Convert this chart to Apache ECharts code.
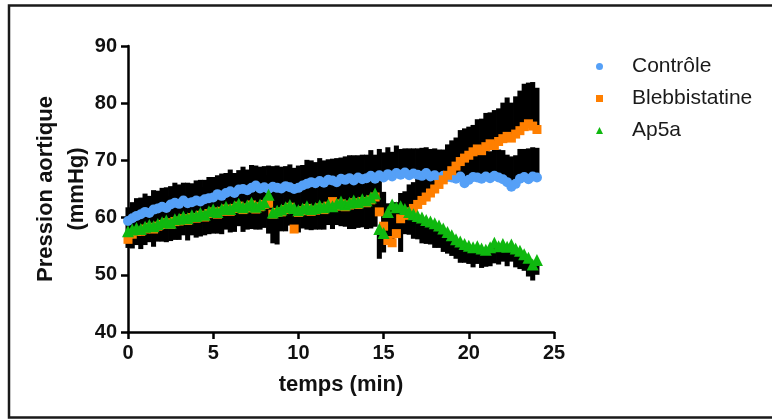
<!DOCTYPE html>
<html>
<head>
<meta charset="utf-8">
<script src="https://cdn.jsdelivr.net/npm/echarts@6/dist/echarts.min.js"></script>
<style>
  html, body { margin: 0; padding: 0; background: #fff; }
  #main { width: 772px; height: 419px; }
</style>
</head>
<body>
<div id="main"></div>
<script>
// temps (min) : un point tous les 0.25 min, de 0 à 24
var step = 0.25;

// Contrôle : moyenne + SEM (barre vers le haut)
var ctrl = [
  59.4, 59.9, 60.3, 60.6,  61.0, 60.8, 61.4, 61.6,  61.9, 61.7, 62.3, 62.6,  62.4, 63.0, 62.5, 62.7,
  63.0, 62.8, 63.2, 63.4,  63.5, 64.1, 63.8, 64.3,  64.6, 64.3, 64.9, 65.0,  64.8, 65.2, 65.6, 65.1,
  65.3, 65.0, 65.4, 65.2,  65.1, 65.5, 65.3, 65.0,  65.2, 65.6, 65.9, 66.2,  66.0, 66.4, 66.1, 66.6,
  66.5, 66.2, 66.8, 66.6,  66.9, 66.5, 67.0, 66.7,  66.9, 67.3, 66.8, 67.4,  67.0, 67.6, 67.2, 67.8,
  67.5, 67.9, 67.4, 67.7,  67.5, 67.3, 67.8, 67.2,  67.4, 66.9, 67.3, 67.1,  67.0, 66.8, 67.2, 66.0,
  66.6, 67.1, 67.0, 66.8,  67.2, 66.9, 67.3, 67.0,  66.7, 66.2, 65.4, 65.9,  66.8, 67.1, 66.7, 67.2,
  67.0
];
var ctrlSem = [
  2.4, 2.8, 3.1, 2.9,  3.2, 3.0, 3.4, 3.1,  3.3, 3.6, 3.2, 3.5,  3.4, 3.1, 3.6, 3.3,
  3.5, 3.8, 3.4, 3.7,  3.6, 3.3, 3.9, 3.5,  3.8, 3.5, 3.4, 3.9,  3.6, 4.0, 3.5, 3.8,
  3.7, 4.1, 3.6, 3.9,  3.8, 3.5, 4.0, 3.7,  3.9, 3.6, 4.2, 3.8,  3.7, 4.0, 3.9, 3.6,
  3.8, 4.2, 3.7, 4.1,  4.0, 4.4, 3.9, 4.3,  4.1, 4.5, 4.2, 4.6,  4.4, 4.7, 4.3, 4.8,
  4.5, 4.2, 4.7, 4.4,  4.6, 4.9, 4.5, 4.8,  4.7, 5.0, 4.6, 4.9,  4.8, 4.5, 5.0, 4.7,
  4.9, 4.6, 5.1, 4.8,  5.0, 4.7, 5.2, 4.9,  5.1, 4.8, 5.3, 5.0,  5.2, 4.9, 5.4, 5.1,
  5.2
];

// Blebbistatine : moyenne + SEM (barre vers le haut)
var bleb = [
  56.2, 57.1, 57.6, 57.6,  58.0, 58.3, 58.0, 58.5,  58.8, 59.1, 58.8, 59.3,  59.4, 59.8, 59.5, 60.0,
  59.9, 60.4, 60.1, 60.7,  61.0, 60.6, 61.1, 61.5,  61.1, 61.6, 62.0, 61.4,  61.7, 62.2, 61.5, 61.9,
  62.3, 62.5, 60.6, 60.9,  61.0, 61.4, 61.8, 58.0,  60.9, 61.2, 61.6, 61.1,  61.3, 61.7, 61.4, 62.0,
  62.8, 62.0, 62.4, 61.9,  62.2, 62.6, 62.3, 62.8,  62.6, 63.1, 63.6, 61.0,  58.5, 56.0, 55.6, 57.2,
  59.8, 60.4, 61.0, 61.6,  62.3, 63.0, 63.6, 64.3,  65.0, 65.8, 66.6, 67.4,  68.2, 69.0, 69.8, 70.4,
  70.9, 71.5, 72.0, 71.7,  72.4, 72.9, 72.6, 73.3,  73.8, 74.2, 73.9, 74.6,  75.2, 75.9, 76.4, 76.0,
  75.4
];
var blebSem = [
  3.9, 4.3, 4.0, 4.4,  4.1, 4.5, 4.2, 4.6,  4.3, 4.7, 4.4, 4.8,  4.5, 4.2, 4.7, 4.4,
  4.6, 4.9, 4.5, 4.8,  4.7, 5.0, 4.6, 4.9,  4.8, 4.5, 5.0, 4.7,  4.9, 4.6, 5.1, 4.8,
  4.7, 5.0, 4.6, 5.1,  4.8, 4.5, 5.0, 7.0,  4.9, 4.6, 5.1, 4.8,  5.0, 4.7, 5.2, 4.9,
  4.8, 5.1, 4.7, 5.0,  5.1, 4.8, 5.3, 5.0,  5.2, 4.9, 5.4, 5.5,  6.0, 6.5, 6.2, 5.5,
  4.5, 4.2, 4.8, 4.6,  5.0, 4.7, 5.3, 5.1,  5.2, 5.6, 5.0, 5.4,  5.3, 5.0, 5.5, 5.2,
  5.0, 4.7, 5.2, 5.6,  5.9, 5.5, 6.2, 5.8,  6.3, 6.8, 6.2, 6.6,  7.0, 7.5, 7.2, 7.7,
  7.3
];

// Ap5a : moyenne - SEM (barre vers le bas)
var ap5a = [
  57.6, 57.9, 58.2, 58.0,  58.4, 58.7, 58.5, 58.9,  59.2, 59.5, 59.1, 59.7,  59.8, 60.2, 59.9, 60.4,
  60.3, 60.8, 60.5, 61.1,  61.4, 61.0, 61.5, 61.9,  61.5, 62.0, 62.4, 61.8,  62.1, 62.6, 61.9, 62.3,
  62.7, 64.0, 60.9, 61.2,  61.4, 61.8, 62.2, 61.7,  61.3, 61.6, 62.0, 61.5,  61.7, 62.1, 61.8, 62.3,
  62.0, 62.4, 62.8, 62.3,  62.6, 63.0, 62.7, 63.2,  63.0, 63.5, 64.2, 58.0,  57.3, 61.0, 62.3, 61.8,
  62.0, 61.5, 61.0, 60.6,  60.3, 60.0, 59.6, 59.3,  59.0, 58.6, 58.1, 57.5,  56.9, 56.2, 55.8, 55.4,
  55.1, 54.8, 55.0, 54.6,  54.4, 54.8, 55.6, 55.0,  55.4, 54.9, 55.3, 54.6,  54.2, 53.6, 53.0, 51.8,
  52.6
];
var ap5aSem = [
  2.9, 3.3, 3.0, 3.5,  3.2, 3.0, 3.6, 3.1,  3.4, 3.8, 3.2, 3.6,  3.7, 3.3, 3.9, 3.5,
  3.8, 4.1, 3.6, 4.0,  4.2, 3.8, 4.4, 4.0,  4.1, 4.5, 3.9, 4.3,  4.2, 4.6, 4.0, 4.4,
  4.5, 6.8, 5.4, 5.9,  3.8, 4.2, 3.6, 4.0,  3.9, 3.5, 4.1, 3.7,  3.8, 4.2, 3.9, 3.6,
  4.0, 3.7, 4.3, 3.9,  4.6, 5.0, 4.5, 4.9,  5.0, 5.4, 5.8, 5.2,  3.4, 4.5, 5.0, 4.6,
  8.0, 4.4, 4.0, 4.3,  4.1, 4.5, 4.2, 4.0,  4.3, 3.9, 4.1, 3.8,  3.6, 3.4, 3.7, 3.3,
  3.2, 3.5, 3.1, 3.4,  3.0, 3.3, 3.6, 3.2,  3.1, 3.4, 3.0, 3.3,  3.2, 2.9, 3.3, 2.8,
  2.6
];

var xTicks = [0, 25, 5];   // min, max, pas
var yTicks = [40, 90, 10];

var names = ['Contrôle', 'Blebbistatine', 'Ap5a'];
var colors = ['#55a0f7', '#ff7f00', '#0fb80f'];

var font = 'Liberation Sans, Arial, sans-serif';

function points(vals) {
  return vals.map(function (v, i) { return [i * step, v]; });
}
function bandUp(vals, sem) {
  return vals.map(function (v, i) { return [i * step, v, v + sem[i]]; });
}
function bandDown(vals, sem) {
  return vals.map(function (v, i) { return [i * step, v - sem[i], v]; });
}

// une barre d'erreur noire par point, assez large pour former une bande
function renderBar(params, api) {
  var a = api.coord([api.value(0), api.value(1)]);
  var b = api.coord([api.value(0), api.value(2)]);
  var w = api.size([step, 0])[0] + 0.8;
  return {
    type: 'rect',
    shape: { x: a[0] - w / 2, y: Math.min(a[1], b[1]), width: w, height: Math.abs(a[1] - b[1]) },
    style: { fill: '#000' }
  };
}

function errSeries(data) {
  return { type: 'custom', renderItem: renderBar, data: data, z: 1, silent: true,
           encode: { x: 0, y: [1, 2] } };
}

var Mychart = echarts.init(document.getElementById('main'));
var option = {
  animation: false,
  color: colors,
  graphic: [{
    type: 'rect', silent: true,
    shape: { x: 9, y: 5.5, width: 800, height: 412 },
    style: { fill: 'none', stroke: '#1a1a1a', lineWidth: 2.5 }
  }],
  legend: {
    orient: 'vertical',
    left: 596, top: 56,
    padding: 0,
    itemWidth: 7, itemHeight: 7,
    itemGap: 11,
    data: [
      { name: names[0], icon: 'circle' },
      { name: names[1], icon: 'rect' },
      { name: names[2], icon: 'triangle' }
    ],
    textStyle: { fontFamily: font, fontSize: 21, lineHeight: 21, color: '#1a1a1a',
                 padding: [0, 0, 0, 24] }
  },
  grid: { left: 128, right: 218, top: 46, bottom: 87, containLabel: false },
  xAxis: {
    type: 'value', min: xTicks[0], max: xTicks[1], interval: xTicks[2],
    name: 'temps (min)', nameLocation: 'middle', nameGap: 42, nameMoveOverlap: false,
    nameTextStyle: { fontFamily: font, fontSize: 22, fontWeight: 'bold', color: '#111' },
    axisLine: { lineStyle: { color: '#000', width: 2.5 } },
    axisTick: { length: 7, lineStyle: { color: '#000', width: 2.5 } },
    axisLabel: { margin: 11, fontFamily: font, fontSize: 20, fontWeight: 'bold', color: '#111' },
    splitLine: { show: false }
  },
  yAxis: {
    type: 'value', min: yTicks[0], max: yTicks[1], interval: yTicks[2],
    name: 'Pression aortique\n(mmHg)', nameLocation: 'middle', nameGap: 36, nameMoveOverlap: false,
    nameTextStyle: { fontFamily: font, fontSize: 22, fontWeight: 'bold', color: '#111', lineHeight: 31 },
    axisLine: { show: true, lineStyle: { color: '#000', width: 2.5 } },
    axisTick: { show: true, length: 7, lineStyle: { color: '#000', width: 2.5 } },
    axisLabel: { margin: 11, fontFamily: font, fontSize: 20, fontWeight: 'bold', color: '#111' },
    splitLine: { show: false }
  },
  series: [
    errSeries(bandUp(ctrl, ctrlSem)),
    errSeries(bandUp(bleb, blebSem)),
    errSeries(bandDown(ap5a, ap5aSem)),
    { name: names[0], type: 'scatter', symbol: 'circle', symbolSize: 10, z: 2,
      itemStyle: { color: colors[0], opacity: 1 }, data: points(ctrl) },
    { name: names[1], type: 'scatter', symbol: 'rect', symbolSize: 9, z: 3,
      itemStyle: { color: colors[1], opacity: 1 }, data: points(bleb) },
    { name: names[2], type: 'scatter', symbol: 'triangle', symbolSize: 12, z: 4,
      itemStyle: { color: colors[2], opacity: 1 }, data: points(ap5a) }
  ]
};
Mychart.setOption(option);
</script>
</body>
</html>
